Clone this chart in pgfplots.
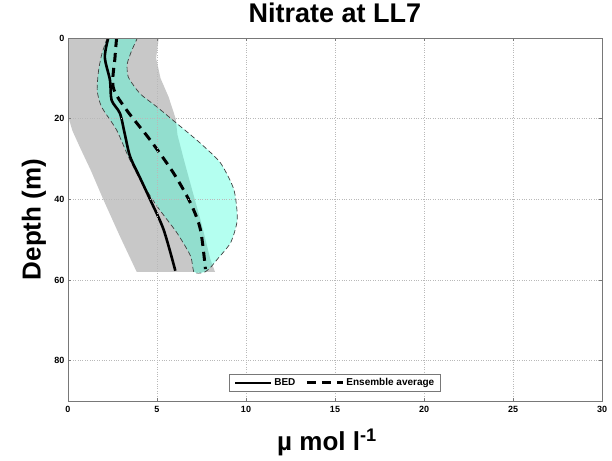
\documentclass[border=0pt]{standalone}
\usepackage{pgfplots}
\pgfplotsset{compat=1.18}
\usepackage{fontspec}
\setmainfont{Liberation Sans}
\definecolor{bandgray}{RGB}{200,200,200}
\definecolor{ensc}{RGB}{67,255,217}
\definecolor{axgray}{RGB}{120,120,120}
\begin{document}
\begin{tikzpicture}
\useasboundingbox (0,0) rectangle (612pt,460pt);
\begin{axis}[
  at={(68pt,59pt)}, anchor=south west,
  scale only axis, width=534pt, height=363pt,
  xmin=0, xmax=30, ymin=0, ymax=90, y dir=reverse,
  xtick={0,5,...,30}, ytick={0,20,...,80},
  grid=major,
  grid style={dotted, color=gray!55, line width=0.6pt},
  axis line style={color=axgray, line width=0.8pt},
  tick style={color=axgray, line width=0.6pt},
  tick align=inside, major tick length=3pt,
  axis on top,
  /pgf/number format/assume math mode=true,
  tick label style={font=\bfseries\fontsize{9}{10}\selectfont},
  xticklabel style={yshift=-2pt},
  title={\bfseries\fontsize{27}{30}\selectfont Nitrate at LL7},
  title style={at={(axis description cs:0.5,1)}, anchor=south, yshift=6pt},
  xlabel={\bfseries\fontsize{26}{28}\selectfont µ mol l\textsuperscript{-1}},
  xlabel style={at={(axis description cs:0.485,-0.115)}, anchor=center},
  ylabel={\bfseries\fontsize{26}{28}\selectfont Depth (m)},
  ylabel style={at={(axis description cs:-0.064,0.5)}, anchor=center},
  legend style={at={(axis description cs:0.5,0.05)}, anchor=center,
    legend columns=2, draw=axgray, line width=0.8pt,
    font=\bfseries\fontsize{10}{11}\selectfont,
    /tikz/every even column/.append style={column sep=8pt},
    inner xsep=4pt, inner ysep=2pt},
  legend image code/.code={\draw[#1] (0pt,0pt) -- (36pt,0pt);},
]
% gray envelope (left edge down, right edge up)
\addplot[fill=bandgray, draw=none, forget plot] coordinates {
 (0,0) (0,18) (0.08,20.5) (0.25,23) (0.66,27) (1.3,33) (1.98,40) (2.9,49) (3.86,58)
 (8.26,58) (8.0,54.9) (7.5,46) (6.97,37.6) (6.5,30) (6.15,24) (6.05,20) (5.65,14.6) (5.2,10) (4.95,5) (5.1,0)} -- cycle;
% ensemble spread fill
\addplot[fill=ensc, fill opacity=0.4, draw=none, smooth, tension=0.4, forget plot] coordinates {
 (2.2,0) (1.9,4) (1.72,8) (1.64,13) (1.89,17.1) (2.73,22.8) (3.39,29.4) (4.05,35.1) (5.0,41.7) (6.12,48.3) (6.88,54) (7.06,57.9)
 (7.35,58.3) (7.7,58) (8.0,56.9) (8.38,54.9) (9.14,50.7) (9.51,45) (9.32,37.6) (8.57,31) (7.44,26.1) (6.12,21.2) (5.0,17.1) (4.05,13.8) (3.39,9.7) (3.33,6.4) (3.58,3.1) (3.9,0)} -- cycle;
% ensemble spread outline
\addplot[draw=black!75, dash pattern=on 5pt off 3pt, line width=0.7pt, smooth, tension=0.4, forget plot] coordinates {
 (2.2,0) (1.9,4) (1.72,8) (1.64,13) (1.89,17.1) (2.73,22.8) (3.39,29.4) (4.05,35.1) (5.0,41.7) (6.12,48.3) (6.88,54) (7.06,57.9)
 (7.35,58.3) (7.7,58) (8.0,56.9) (8.38,54.9) (9.14,50.7) (9.51,45) (9.32,37.6) (8.57,31) (7.44,26.1) (6.12,21.2) (5.0,17.1) (4.05,13.8) (3.39,9.7) (3.33,6.4) (3.58,3.1) (3.9,0)};
% BED
\addplot[black, line width=2.6pt, smooth, tension=0.5] coordinates {
 (2.26,0) (2.07,4.8) (2.36,10.5) (2.45,15.4) (2.92,18.7) (3.2,24) (3.49,29.4) (4.05,34.7) (4.62,40.1) (5.37,47.5) (6.03,57.7)};
\addlegendentry{BED}
% Ensemble average
\addplot[black, line width=3pt, dash pattern=on 9pt off 6pt, smooth, tension=0.5] coordinates {
 (2.73,0) (2.64,4.8) (2.54,12.2) (3.3,17.9) (4.62,25.3) (5.93,33.5) (6.88,40.9) (7.44,47.5) (7.72,57.3)};
\addlegendentry{Ensemble average}
\end{axis}
\end{tikzpicture}
\end{document}
